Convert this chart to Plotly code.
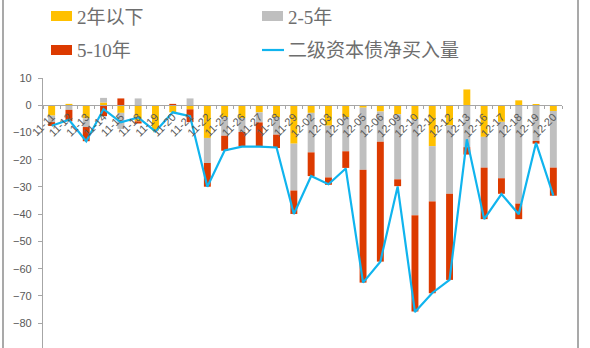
import plotly.graph_objects as go

# Trading dates (category axis)
dates = ["11-11", "11-12", "11-13", "11-14", "11-15", "11-18", "11-19", "11-20", "11-21", "11-22",
         "11-25", "11-26", "11-27", "11-28", "11-29", "12-02", "12-03", "12-04", "12-05", "12-06",
         "12-09", "12-10", "12-11", "12-12", "12-13", "12-16", "12-17", "12-18", "12-19", "12-20"]

# Net buying by remaining maturity
under_2y = [-3.8, 0.5, -4.8, 1.0, -2.8, -5.9, -9.3, -2.6, -1.5, -12.0,
            -4.4, -4.7, -2.6, -4.4, -14.1, -2.8, -7.5, -4.4, -0.9, -2.3,
            -3.3, -5.1, -15.0, -7.4, 5.8, -11.6, -6.1, 1.8, 0.3, -2.1]
y2_5 = [-2.4, -1.7, -3.2, 1.7, -5.9, 2.5, 0.0, 0.0, 2.5, -9.2,
        -6.8, -5.1, -3.7, -6.4, -17.2, -14.5, -19.0, -12.5, -22.8, -11.1,
        -23.9, -35.3, -20.3, -25.1, -15.4, -11.3, -20.7, -36.1, -13.1, -20.8]
y5_10 = [-1.4, -4.2, -5.2, -4.0, 2.5, -0.8, 0.0, 0.5, -4.7, -8.7,
         -5.5, -5.3, -8.8, -4.9, -8.6, -8.7, -2.7, -6.1, -41.4, -44.0,
         -2.5, -35.3, -33.7, -31.6, -2.7, -18.9, -5.7, -5.7, -1.0, -10.3]
# Total net buying of tier-2 capital bonds
total_net = [-7.5, -5.3, -13.2, -1.4, -6.3, -4.5, -9.6, -2.6, -4.0, -29.9,
             -16.6, -15.2, -15.2, -15.5, -39.9, -26.0, -29.0, -23.2, -65.1, -57.4,
             -29.8, -75.9, -68.9, -64.1, -12.5, -41.8, -32.6, -40.0, -13.8, -33.2]

YELLOW = "#FFC000"
GRAY = "#BFBFBF"
RED = "#DC3A00"
BLUE = "#10B4EE"
TEXT = "#595959"
LEGEND_TEXT = "#6E6E6E"
AXIS = "#A6A6A6"

W, H = 590, 348
ML, MR, MT, MB = 43, 28, 78, 0
PW, PH = W - ML - MR, H - MT - MB
Y0, Y1 = -89.1, 10


def px_x(px):
    return (px - ML) / PW


def px_y(py):
    return 1 + (MT - py) / PH


fig = go.Figure()
for name, vals, col in [("2年以下", under_2y, YELLOW), ("2-5年", y2_5, GRAY), ("5-10年", y5_10, RED)]:
    fig.add_trace(go.Bar(x=dates, y=vals, name=name, marker=dict(color=col, line=dict(width=0)),
                         showlegend=False))
fig.add_trace(go.Scatter(x=dates, y=total_net, name="二级资本债净买入量", mode="lines",
                         line=dict(color=BLUE, width=2.2), showlegend=False))

shapes = []
annotations = []
# chart frame sides
for px in (3, 578):
    shapes.append(dict(type="line", xref="paper", yref="paper", x0=px_x(px), x1=px_x(px),
                       y0=px_y(H), y1=px_y(0), line=dict(color="#8C8C8C", width=1.5)))

# legend: two columns, two rows
legend_items = [
    ("2年以下", "bar", YELLOW, 51, 16),
    ("2-5年", "bar", GRAY, 262, 16),
    ("5-10年", "bar", RED, 51, 50),
    ("二级资本债净买入量", "line", BLUE, 262, 50),
]
for label, kind, col, lx, ly in legend_items:
    if kind == "bar":
        shapes.append(dict(type="rect", xref="paper", yref="paper", x0=px_x(lx), x1=px_x(lx + 21),
                           y0=px_y(ly + 5), y1=px_y(ly - 5), fillcolor=col, line=dict(width=0)))
    else:
        shapes.append(dict(type="line", xref="paper", yref="paper", x0=px_x(lx), x1=px_x(lx + 22),
                           y0=px_y(ly), y1=px_y(ly), line=dict(color=col, width=2.2)))
    annotations.append(dict(text=label, xref="paper", yref="paper", x=px_x(lx + 24), y=px_y(ly + 1),
                            xanchor="left", yanchor="middle", showarrow=False,
                            font=dict(family="Liberation Serif, Noto Sans CJK SC", size=19,
                                      color=LEGEND_TEXT)))

fig.update_layout(
    width=W, height=H,
    margin=dict(l=ML, r=MR, t=MT, b=MB, pad=0),
    paper_bgcolor="white", plot_bgcolor="white",
    barmode="relative", bargap=0.6,
    shapes=shapes, annotations=annotations,
    xaxis=dict(type="category", anchor="free", position=(0 - Y0) / (Y1 - Y0),
               showline=True, linecolor=AXIS, linewidth=1.3,
               ticks="outside", tickson="boundaries", ticklen=3, tickcolor=AXIS,
               tickangle=-45, showgrid=False,
               tickfont=dict(family="Liberation Sans, Arial", size=11, color=TEXT)),
    yaxis=dict(range=[Y0, Y1], dtick=10, showline=True, linecolor=AXIS, linewidth=1.3,
               ticks="outside", ticklen=4, tickcolor=AXIS, showgrid=False, zeroline=False,
               ticklabelstandoff=4,
               tickfont=dict(family="Liberation Sans, Arial", size=11, color=TEXT)),
)

fig.write_html("out.html")
